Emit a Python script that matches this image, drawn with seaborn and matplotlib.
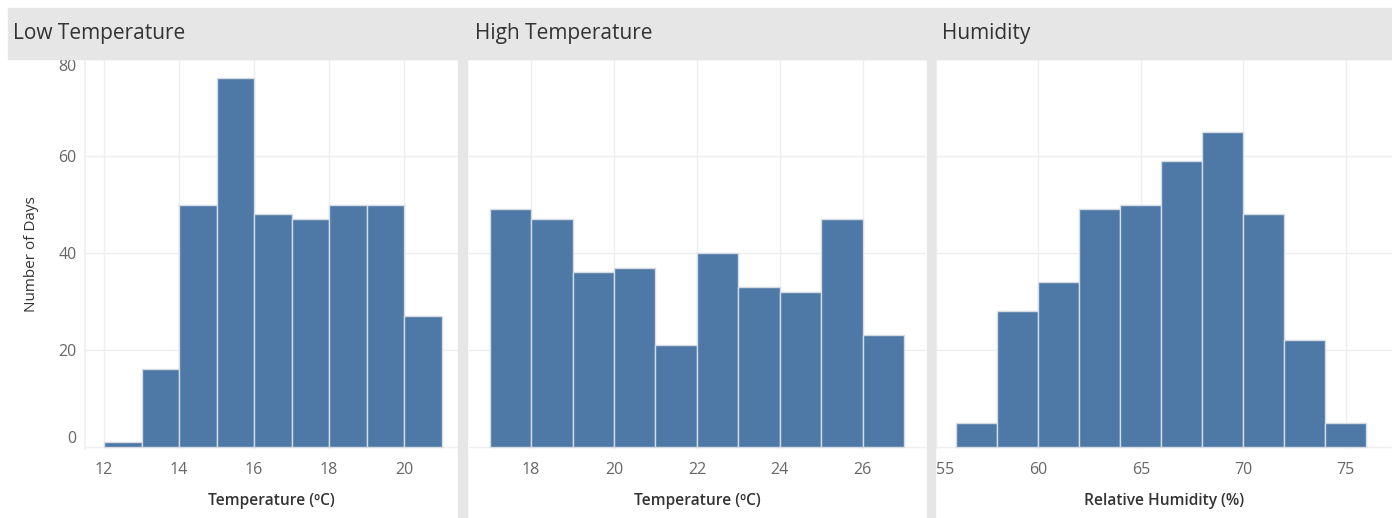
import matplotlib
matplotlib.use('Agg')
import matplotlib.pyplot as plt
import seaborn as sns
from matplotlib.patches import Rectangle

sns.set_theme(style='white')
plt.rcParams['font.family'] = ['Open Sans', 'DejaVu Sans']

# ─── Data (bin edges and day counts per bin) ─────────────────
low_edges = [12, 13, 14, 15, 16, 17, 18, 19, 20, 21]
low_counts = [1, 16, 50, 76, 48, 47, 50, 50, 27]

high_edges = [17, 18, 19, 20, 21, 22, 23, 24, 25, 26, 27]
high_counts = [49, 47, 36, 37, 21, 40, 33, 32, 47, 23]

hum_edges = [56, 58, 60, 62, 64, 66, 68, 70, 72, 74, 76]
hum_counts = [5, 28, 34, 49, 50, 59, 65, 48, 22, 5]

titles = ['Low Temperature', 'High Temperature', 'Humidity']
xlabels = ['Temperature (ºC)', 'Temperature (ºC)', 'Relative Humidity (%)']
xticks = [[12, 14, 16, 18, 20], [18, 20, 22, 24, 26], [55, 60, 65, 70, 75]]
xlims = [(11.49, 21.44), (16.5, 27.53), (55.0, 77.27)]
yticks = [0, 20, 40, 60, 80]

BAR = '#4e78a5'
GRID = '#efefef'
BAND = '#e6e6e6'

W, H = 1392, 518
fig = plt.figure(figsize=(W / 100, H / 100), dpi=100)

def fx(px):
    return px / W

def fy(py):
    return 1 - py / H

# header band and panel separators
fig.patches.append(Rectangle((fx(8), fy(59)), fx(W - 8), (51) / H,
                             transform=fig.transFigure, color=BAND, zorder=0))
for x0, x1 in [(458, 467), (927, 935)]:
    fig.patches.append(Rectangle((fx(x0), 0), fx(x1 - x0), fy(59),
                                 transform=fig.transFigure, color=BAND, zorder=0))

panels = [(85, 458), (469, 926), (936, 1392)]
data = [(low_edges, low_counts), (high_edges, high_counts), (hum_edges, hum_counts)]
title_x = [13, 475, 942]

for i, ((l, r), (edges, counts)) in enumerate(zip(panels, data)):
    ax = fig.add_axes([fx(l), fy(449), fx(r - l), (449 - 59) / H])
    sns.histplot(x=edges[:-1], weights=counts, bins=edges, ax=ax,
                 color=BAR, alpha=1, edgecolor='#d5dbe3', linewidth=1)
    ax.set_xlim(*xlims[i])
    ax.set_ylim(-0.4, 80)
    ax.set_xticks(xticks[i])
    ax.set_yticks(yticks)
    ax.grid(True, color=GRID, linewidth=1)
    ax.set_axisbelow(True)
    for s in ax.spines.values():
        s.set_visible(False)
    ax.tick_params(axis='both', length=0, labelsize=11.5, colors='#666666')
    ax.tick_params(axis='x', pad=9)
    ax.set_xlabel(xlabels[i], fontsize=11.2, fontweight='semibold',
                  color='#333333', labelpad=11)
    if i == 0:
        ax.set_ylabel('Number of Days', fontsize=11, color='#333333', labelpad=14)
        ax.tick_params(axis='y', pad=6)
        ax.spines['left'].set_visible(True)
        ax.spines['left'].set_color(GRID)
        ylabs = ax.get_yticklabels()
        ylabs[0].set_va('bottom')
        ylabs[-1].set_va('top')
    else:
        ax.set_ylabel('')
        ax.set_yticklabels([])
    if i == 2:
        ax.get_xticklabels()[0].set_ha('left')
    fig.text(fx(title_x[i]), fy(33), titles[i], fontsize=15, color='#333333',
             va='center', ha='left')

plt.savefig('out.png', dpi=100)
plt.close()
